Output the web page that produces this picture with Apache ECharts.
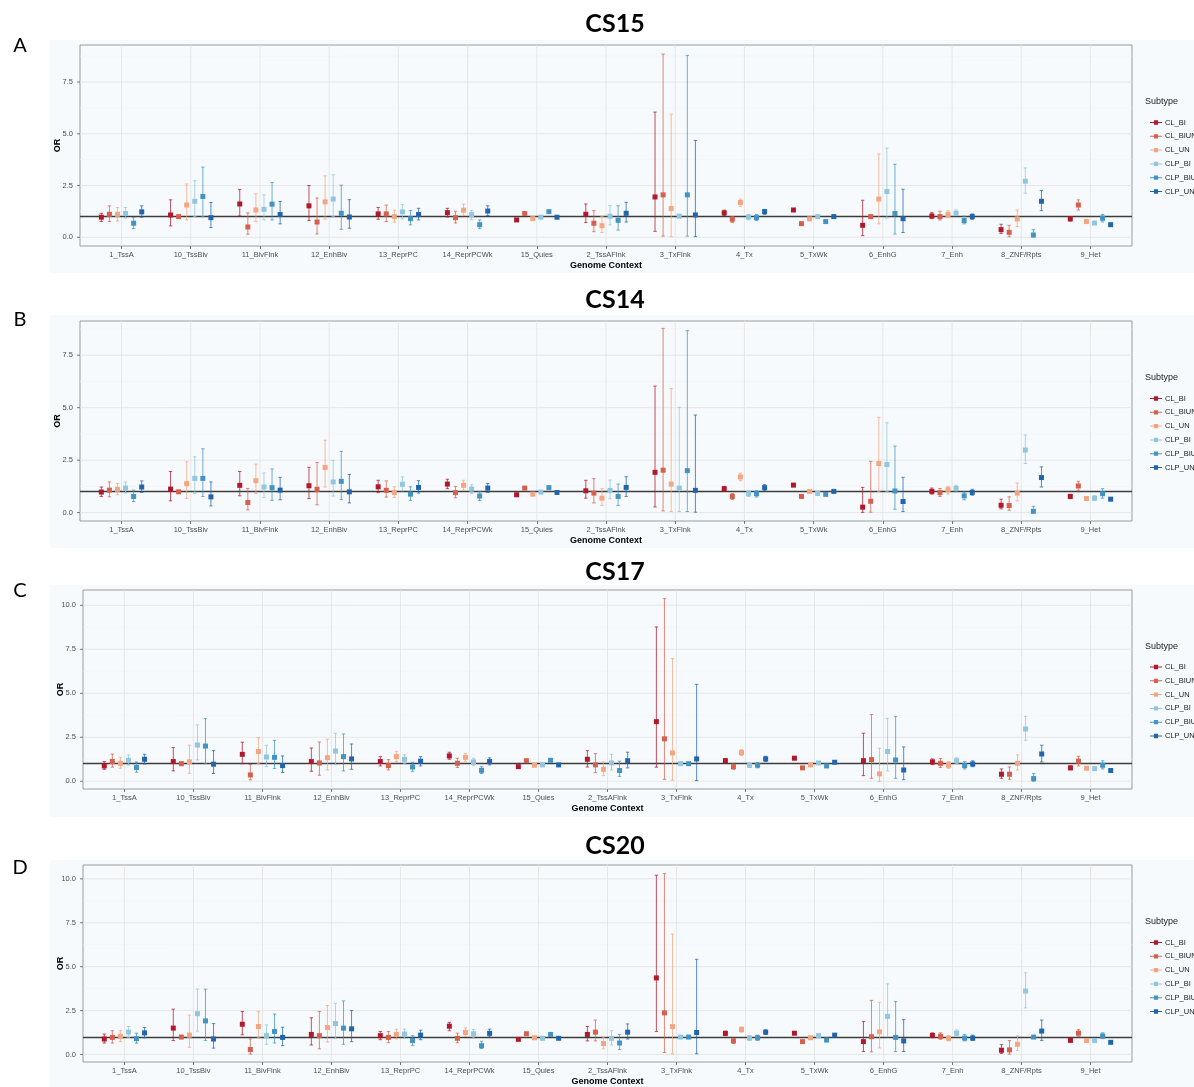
<!DOCTYPE html>
<html><head><meta charset="utf-8">
<script src="https://cdn.jsdelivr.net/npm/echarts@6/dist/echarts.min.js"></script>
<style>html,body{margin:0;padding:0;background:#fff}#chart{width:1194px;height:1087px}</style>
</head><body><div id="chart"></div>
<script>
// ---------------- data ----------------
const categories = ["1_TssA","10_TssBiv","11_BivFlnk","12_EnhBiv","13_ReprPC","14_ReprPCWk","15_Quies","2_TssAFlnk","3_TxFlnk","4_Tx","5_TxWk","6_EnhG","7_Enh","8_ZNF/Rpts","9_Het"];
const subtypes = ["CL_BI","CL_BIUN","CL_UN","CLP_BI","CLP_BIUN","CLP_UN"];
const panelTitles = ["CS15","CS14","CS17","CS20"];
const panelLetters = ["A","B","C","D"];
const yTicksLow = [0, 2.5, 5, 7.5];
const yTicksHigh = [0, 2.5, 5, 7.5, 10];
const yMinorTicks = [1.25, 3.75, 6.25, 8.75];
const refValue = 1;

// CS15 : rows = subtypes, columns = categories
const cs15_or = [
 [0.97,1.08,1.61,1.52,1.13,1.19,0.84,1.11,1.95,1.18,1.32,0.58,1.03,0.37,0.89],
 [1.11,1.00,0.50,0.74,1.13,0.95,1.15,0.68,2.05,0.87,0.66,1.00,1.00,0.24,1.56],
 [1.11,1.56,1.32,1.71,1.00,1.31,0.90,0.56,1.39,1.68,0.89,1.85,1.10,0.89,0.76],
 [1.15,1.74,1.35,1.85,1.23,1.10,0.97,1.02,1.02,0.98,1.00,2.21,1.16,2.71,0.69],
 [0.68,1.97,1.60,1.16,0.90,0.61,1.24,0.82,2.05,0.95,0.76,1.15,0.81,0.11,0.92],
 [1.23,0.95,1.10,0.98,1.10,1.27,0.97,1.16,1.08,1.24,1.00,0.90,1.00,1.74,0.61]];
const cs15_lo = [
 [0.76,0.55,1.03,0.82,0.87,0.98,0.80,0.71,0.29,1.05,1.27,0.08,0.90,0.19,0.79],
 [0.76,0.95,0.15,0.16,0.76,0.69,1.10,0.27,0.06,0.71,0.61,0.96,0.84,0.03,1.32],
 [0.79,0.84,0.76,0.87,0.73,1.05,0.85,0.23,0.03,1.50,0.84,0.65,0.94,0.52,0.71],
 [0.92,1.00,0.84,1.00,0.89,0.85,0.93,0.60,0.98,0.85,0.95,0.92,1.05,2.13,0.64],
 [0.42,1.00,0.84,0.39,0.60,0.42,1.19,0.35,0.06,0.81,0.71,0.16,0.65,0.03,0.74],
 [0.97,0.47,0.65,0.44,0.84,1.05,0.93,0.74,0.03,1.11,0.96,0.23,0.87,1.29,0.56]];
const cs15_hi = [
 [1.16,1.81,2.31,2.50,1.44,1.40,0.88,1.61,6.05,1.31,1.37,1.79,1.19,0.63,0.97],
 [1.52,1.05,1.18,1.90,1.56,1.26,1.20,1.29,8.85,1.00,0.71,1.04,1.26,0.58,1.81],
 [1.44,2.58,2.10,2.97,1.31,1.60,0.95,1.00,5.95,1.85,0.94,4.02,1.29,1.32,0.81],
 [1.44,2.73,2.05,3.02,1.58,1.29,1.01,1.53,1.06,1.10,1.05,4.31,1.32,3.35,0.75],
 [0.95,3.39,2.65,2.52,1.29,0.84,1.29,1.52,8.79,1.10,0.81,3.53,1.02,0.37,1.10],
 [1.52,1.68,1.73,1.82,1.40,1.52,1.01,1.69,4.68,1.35,1.04,2.32,1.13,2.26,0.66]];

// CS14
const cs14_or = [
 [0.98,1.12,1.30,1.28,1.23,1.36,0.85,1.04,1.92,1.14,1.31,0.26,1.01,0.35,0.77],
 [1.07,0.99,0.48,1.11,1.06,0.95,1.17,0.93,2.02,0.77,0.77,0.54,0.95,0.34,1.27],
 [1.11,1.38,1.52,2.15,0.96,1.30,0.88,0.69,1.36,1.70,1.01,2.34,1.09,0.93,0.67],
 [1.17,1.63,1.22,1.46,1.35,1.12,0.98,1.06,1.17,0.90,0.91,2.29,1.15,2.98,0.69],
 [0.77,1.63,1.19,1.49,0.88,0.79,1.19,0.77,2.00,0.90,0.87,1.03,0.80,0.06,0.90],
 [1.22,0.75,1.07,0.99,1.20,1.17,0.96,1.20,1.06,1.19,1.01,0.53,0.96,1.67,0.64]];
const cs14_lo = [
 [0.77,0.56,0.80,0.67,0.95,1.14,0.80,0.69,0.27,1.03,1.26,0.01,0.88,0.18,0.67],
 [0.75,0.95,0.13,0.37,0.74,0.71,1.12,0.46,0.08,0.63,0.72,0.02,0.77,0.11,1.04],
 [0.85,0.67,0.91,1.22,0.72,1.06,0.83,0.34,0.05,1.52,0.96,1.01,0.88,0.56,0.62],
 [0.93,0.90,0.72,0.79,1.04,0.90,0.94,0.66,0.05,0.77,0.87,1.01,1.03,2.34,0.58],
 [0.53,0.77,0.58,0.63,0.58,0.58,1.14,0.34,0.05,0.74,0.82,0.16,0.61,0.00,0.69],
 [0.96,0.32,0.61,0.46,0.93,0.96,0.92,0.77,0.02,1.04,0.97,0.05,0.83,1.22,0.59]];
const cs14_hi = [
 [1.22,1.96,1.96,2.16,1.54,1.59,0.90,1.54,6.03,1.25,1.36,1.20,1.17,0.64,0.87],
 [1.46,1.04,1.15,2.39,1.51,1.25,1.22,1.62,8.78,0.91,0.82,2.44,1.15,0.75,1.49],
 [1.39,2.42,2.31,3.45,1.23,1.54,0.93,1.14,5.91,1.88,1.06,4.54,1.25,1.41,0.72],
 [1.46,2.66,1.89,2.48,1.70,1.33,1.02,1.55,5.02,1.01,0.95,4.28,1.30,3.70,0.80],
 [1.07,3.04,2.08,2.92,1.23,0.99,1.24,1.36,8.67,1.04,0.92,3.17,0.98,0.30,1.14],
 [1.51,1.46,1.68,1.81,1.52,1.39,1.00,1.71,4.65,1.33,1.05,1.68,1.11,2.18,0.69]];

// CS17
const cs17_or = [
 [0.87,1.12,1.53,1.12,1.12,1.44,0.83,1.25,3.39,1.17,1.31,1.17,1.10,0.40,0.76],
 [1.12,1.00,0.36,1.04,0.89,1.02,1.17,0.93,2.41,0.83,0.76,1.23,1.02,0.40,1.14],
 [1.02,1.10,1.69,1.34,1.40,1.36,0.91,0.68,1.61,1.63,0.93,0.42,0.91,1.02,0.74],
 [1.19,2.06,1.38,1.72,1.25,1.10,0.93,1.04,1.00,0.91,1.04,1.69,1.16,2.97,0.72],
 [0.78,2.00,1.36,1.40,0.81,0.62,1.19,0.61,1.00,0.91,0.87,1.21,0.89,0.15,0.91],
 [1.25,0.97,0.89,1.27,1.14,1.12,0.93,1.17,1.27,1.27,1.08,0.64,0.98,1.55,0.61]];
const cs17_lo = [
 [0.68,0.59,1.00,0.57,0.87,1.25,0.79,0.81,0.80,1.06,1.27,0.32,0.95,0.17,0.66],
 [0.80,0.96,0.08,0.34,0.64,0.78,1.13,0.49,0.11,0.68,0.72,0.17,0.78,0.11,0.87],
 [0.74,0.45,1.00,0.64,1.12,1.14,0.87,0.32,0.06,1.46,0.89,0.00,0.74,0.63,0.69],
 [0.91,1.21,0.83,0.93,1.00,0.89,0.90,0.64,0.97,0.78,1.00,0.59,1.00,2.33,0.67],
 [0.51,1.00,0.72,0.59,0.57,0.44,1.15,0.28,0.97,0.76,0.83,0.17,0.70,0.00,0.70],
 [0.98,0.44,0.49,0.68,0.87,0.93,0.89,0.76,0.04,1.12,1.04,0.09,0.83,1.10,0.56]];
const cs17_hi = [
 [1.12,1.91,2.22,1.89,1.40,1.65,0.87,1.74,8.77,1.29,1.35,2.73,1.27,0.70,0.87],
 [1.55,1.05,0.95,2.23,1.23,1.31,1.21,1.57,10.38,0.98,0.80,3.79,1.29,0.81,1.42],
 [1.36,2.05,2.48,2.39,1.70,1.59,0.95,1.10,6.97,1.80,0.97,1.88,1.12,1.50,0.79],
 [1.50,3.20,2.05,2.73,1.50,1.31,0.97,1.53,1.03,1.04,1.08,3.58,1.33,3.69,0.78],
 [1.10,3.56,2.31,2.69,1.08,0.83,1.23,1.14,1.03,1.06,0.91,3.67,1.12,0.44,1.16],
 [1.53,1.74,1.44,2.12,1.40,1.33,0.97,1.65,5.51,1.42,1.12,1.95,1.16,2.05,0.66]];

// CS20
const cs20_or = [
 [0.88,1.50,1.72,1.14,1.07,1.61,0.86,1.14,4.36,1.20,1.21,0.73,1.08,0.24,0.80],
 [0.97,0.99,0.28,1.07,0.97,0.92,1.18,1.27,2.37,0.77,0.73,1.01,1.03,0.26,1.21],
 [1.03,1.10,1.59,1.53,1.14,1.25,0.95,0.62,1.59,1.42,0.95,1.29,0.92,0.58,0.79],
 [1.27,2.32,1.07,1.76,1.16,1.18,0.92,0.92,0.99,0.93,1.07,2.17,1.21,3.61,0.79],
 [0.90,1.91,1.31,1.50,0.79,0.50,1.14,0.65,0.99,0.95,0.82,0.97,0.93,0.99,1.05],
 [1.23,0.88,0.97,1.46,1.10,1.20,0.92,1.27,1.25,1.27,1.10,0.77,0.93,1.33,0.69]];
const cs20_lo = [
 [0.65,0.79,1.12,0.54,0.84,1.35,0.82,0.77,1.31,1.07,1.17,0.17,0.95,0.06,0.75],
 [0.65,0.95,0.02,0.32,0.67,0.67,1.14,0.77,0.11,0.62,0.69,0.15,0.86,0.02,1.01],
 [0.73,0.41,0.95,0.71,0.88,1.03,0.91,0.32,0.04,1.27,0.91,0.37,0.77,0.22,0.74],
 [0.97,1.33,0.58,0.92,0.92,0.93,0.88,0.54,0.96,0.80,1.03,1.01,1.07,2.65,0.74],
 [0.64,0.80,0.65,0.58,0.50,0.34,1.10,0.28,0.96,0.80,0.78,0.17,0.77,0.95,0.90],
 [0.95,0.36,0.50,0.73,0.84,0.99,0.88,0.88,0.04,1.14,1.06,0.17,0.80,0.80,0.64]];
const cs20_hi = [
 [1.16,2.58,2.45,2.09,1.31,1.83,0.90,1.59,10.21,1.33,1.25,1.87,1.23,0.56,0.85],
 [1.35,1.04,0.88,2.45,1.31,1.21,1.22,1.96,10.30,0.92,0.77,3.08,1.23,0.79,1.42],
 [1.35,2.24,2.43,2.79,1.44,1.51,0.99,0.99,6.86,1.57,0.99,2.97,1.07,1.07,0.84],
 [1.59,3.72,1.68,2.92,1.44,1.42,0.96,1.35,1.02,1.07,1.11,4.02,1.40,4.65,0.84],
 [1.21,3.72,2.30,3.05,1.07,0.75,1.18,1.14,1.02,1.10,0.86,3.01,1.14,1.03,1.23],
 [1.53,1.76,1.55,2.50,1.38,1.44,0.96,1.74,5.42,1.40,1.14,1.98,1.10,1.96,0.74]];

// ---------------- layout / style ----------------
const colors = ["#B2182B","#D6604D","#F4A582","#92C5DE","#4393C3","#2166AC"];
const dodgeStep = 0.7 / 6;
const layouts = [
 {left:80, top:45,  width:1052, height:201, ymin:-0.42, ymax:9.29,  ticks:yTicksLow,  titleY:24,  letterY:46,  subY:102,   legTop:113.5, tint:[40,273]},
 {left:80, top:321, width:1052, height:200, ymin:-0.40, ymax:9.13,  ticks:yTicksLow,  titleY:300, letterY:320, subY:378,   legTop:389.5, tint:[315,548]},
 {left:83, top:590, width:1049, height:199, ymin:-0.44, ymax:10.87, ticks:yTicksHigh, titleY:572, letterY:591, subY:646.5, legTop:658,   tint:[585,817]},
 {left:83, top:865, width:1049, height:200, ymin:-0.43, ymax:10.79, ticks:yTicksHigh, titleY:846, letterY:868, subY:922,   legTop:933.5, tint:[860,1087]}
];
const panelData = [[cs15_or,cs15_lo,cs15_hi],[cs14_or,cs14_lo,cs14_hi],[cs17_or,cs17_lo,cs17_hi],[cs20_or,cs20_lo,cs20_hi]];
const FONT = "'Liberation Sans', Arial, sans-serif";
const catIdx = categories.map((c, i) => i);
const legendIcon = 'path://M0,3.4h14v1.2H0zM4.6,1.5h4.8v5H4.6z';

function renderErr(params, api) {
  const x = api.value(0), lo = api.value(1), hi = api.value(2);
  const a = api.coord([x, lo]), b = api.coord([x, hi]);
  const hw = 1.7;
  const st = {stroke: api.visual('color'), lineWidth: 1, opacity: 0.75, fill: null};
  return {type: 'group', children: [
    {type: 'line', shape: {x1: a[0], y1: a[1], x2: b[0], y2: b[1]}, style: st},
    {type: 'line', shape: {x1: a[0]-hw, y1: a[1], x2: a[0]+hw, y2: a[1]}, style: st},
    {type: 'line', shape: {x1: b[0]-hw, y1: b[1], x2: b[0]+hw, y2: b[1]}, style: st}
  ]};
}
// kind: 'h' full-width line, 'v' full-height line, 'tick' short tick left of the panel
function makeGridRenderer(kind, width) {
  return function (params, api) {
    const cs = params.coordSys;
    const pt = api.coord([api.value(0), api.value(1)]);
    let shape;
    if (kind === 'h') shape = {x1: cs.x, y1: pt[1], x2: cs.x + cs.width, y2: pt[1]};
    else if (kind === 'v') shape = {x1: pt[0], y1: cs.y, x2: pt[0], y2: cs.y + cs.height};
    else shape = {x1: cs.x - 3, y1: pt[1], x2: cs.x, y2: pt[1]};
    return {type: 'line', shape, style: {stroke: api.visual('color'), lineWidth: width}};
  };
}

const grid = [], xAxis = [], yAxis = [], series = [], legend = [], graphic = [];
layouts.forEach((L, p) => {
  graphic.push({type:'rect', z:-10, silent:true, shape:{x:50, y:L.tint[0], width:1144, height:L.tint[1]-L.tint[0]}, style:{fill:'#f7fafd'}});
  graphic.push({type:'text', x:615, y:L.titleY, silent:true, style:{text:panelTitles[p], font:"bold 25px Lato, 'Liberation Sans', sans-serif", fill:'#000', textAlign:'center', textVerticalAlign:'middle', align:'center', verticalAlign:'middle'}});
  graphic.push({type:'text', x:20, y:L.letterY, silent:true, style:{text:panelLetters[p], font:"20px Lato, 'Liberation Sans', sans-serif", fill:'#000', textAlign:'center', textVerticalAlign:'middle', align:'center', verticalAlign:'middle'}});
  graphic.push({type:'text', x:1145, y:L.subY, silent:true, style:{text:'Subtype', font:"9px " + FONT, fill:'#1a1a1a', textAlign:'left', textVerticalAlign:'middle', align:'left', verticalAlign:'middle'}});

  grid.push({left:L.left, top:L.top, width:L.width, height:L.height, show:true, borderColor:'#9a9a9a', borderWidth:1, backgroundColor:'transparent'});
  xAxis.push({
    type:'value', gridIndex:p, min:-0.6, max:14.6, position:'bottom',
    name:'Genome Context', nameLocation:'middle', nameGap:15, nameMoveOverlap:false,
    nameTextStyle:{fontFamily:FONT, fontWeight:'bold', fontSize:9, color:'#000'},
    axisLine:{show:false, onZero:false},
    axisTick:{show:true, length:3, customValues:catIdx, lineStyle:{color:'#555', width:0.8}},
    axisLabel:{customValues:catIdx, formatter:(v) => categories[Math.round(v)], fontFamily:FONT, fontSize:7.5, color:'#4d4d4d', margin:5},
    splitLine:{show:false}
  });
  yAxis.push({
    type:'value', gridIndex:p, min:L.ymin, max:L.ymax, position:'left',
    name:'OR', nameLocation:'middle', nameGap:18, nameRotate:90, nameMoveOverlap:false,
    nameTextStyle:{fontFamily:FONT, fontWeight:'bold', fontSize:9, color:'#000'},
    axisLine:{show:false, onZero:false},
    axisTick:{show:false, customValues:L.ticks},
    axisLabel:{customValues:L.ticks, formatter:(v) => v.toFixed(1), fontFamily:FONT, fontSize:7.5, color:'#4d4d4d', margin:7},
    splitLine:{show:false}
  });
  legend.push({
    orient:'vertical', left:1145, top:L.legTop, itemWidth:12, itemHeight:8, itemGap:5.8,
    data: subtypes.map(s => ({name:s, icon:legendIcon})),
    textStyle:{fontFamily:FONT, fontSize:7.5, color:'#1a1a1a', padding:[0,0,0,-2]},
    selectedMode:false
  });
  // panel grid lines and y ticks, placed through the panel's own scales
  const gridBase = {type:'custom', xAxisIndex:p, yAxisIndex:p, silent:true, animation:false, z:0, clip:false, encode:{x:0, y:1}, tooltip:{show:false}};
  series.push(Object.assign({}, gridBase, {name:'minor'+p, itemStyle:{color:'#f1f1f1'}, renderItem:makeGridRenderer('h', 0.6),
    data: yMinorTicks.filter(v => v < L.ymax).map(v => [0, v])}));
  series.push(Object.assign({}, gridBase, {name:'major'+p, itemStyle:{color:'#e4e4e4'}, renderItem:makeGridRenderer('h', 0.9),
    data: L.ticks.map(v => [0, v])}));
  series.push(Object.assign({}, gridBase, {name:'vert'+p, itemStyle:{color:'#e4e4e4'}, renderItem:makeGridRenderer('v', 0.9),
    data: catIdx.map(i => [i, 0])}));
  series.push(Object.assign({}, gridBase, {name:'ytick'+p, itemStyle:{color:'#555555'}, renderItem:makeGridRenderer('tick', 0.8),
    data: L.ticks.map(v => [0, v])}));

  const [orv, lov, hiv] = panelData[p];
  subtypes.forEach((s, k) => {
    const off = (k - 2.5) * dodgeStep;
    const errSeries = {
      type:'custom', name:s, xAxisIndex:p, yAxisIndex:p, z:2,
      itemStyle:{color:colors[k]},
      encode:{x:0, y:[1,2]},
      renderItem:renderErr,
      data: categories.map((c, i) => [i + off, lov[k][i], hiv[k][i]]),
      silent:true, animation:false
    };
    if (k === 0) {
      errSeries.markLine = {silent:true, symbol:['none','none'], label:{show:false},
        lineStyle:{color:'#3c3c3c', width:1.4, type:'solid'}, data:[{yAxis:refValue}], z:1, animation:false};
    }
    series.push(errSeries);
    series.push({
      type:'scatter', name:s, xAxisIndex:p, yAxisIndex:p, z:3,
      symbol:'rect', symbolSize:5,
      itemStyle:{color:colors[k], opacity:1},
      data: categories.map((c, i) => [i + off, orv[k][i]]),
      animation:false
    });
  });
});

const chart = echarts.init(document.getElementById('chart'), null, {renderer:'canvas'});
chart.setOption({
  backgroundColor:'#ffffff',
  animation:false,
  grid, xAxis, yAxis, series, legend, graphic,
  tooltip:{show:false}
});
</script></body></html>
